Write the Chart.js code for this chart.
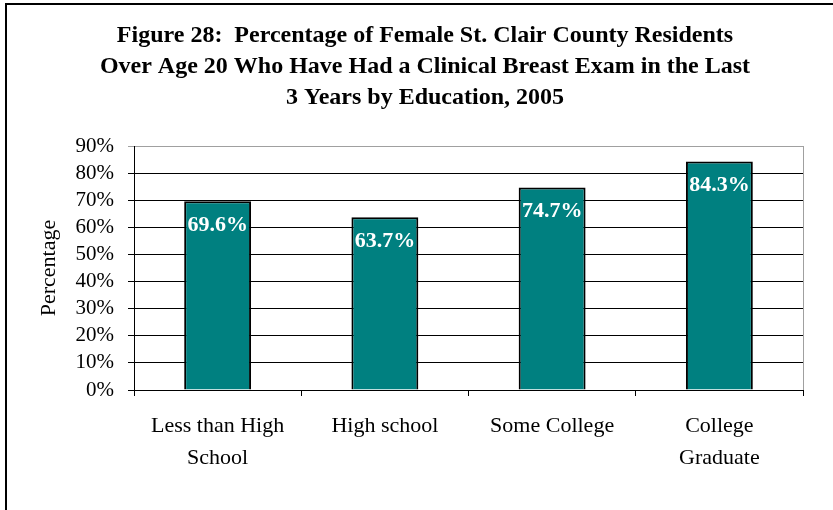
<!DOCTYPE html>
<html>
<head>
<meta charset="utf-8">
<script src="https://cdn.jsdelivr.net/npm/chart.js@4/dist/chart.umd.min.js"></script>
<style>
  html, body { margin: 0; padding: 0; background: #ffffff; }
  #wrap { width: 833px; height: 510px; position: relative; }
</style>
</head>
<body>
<div id="wrap"><canvas id="c" width="833" height="510"></canvas></div>
<script>
const titleLines = [
  "Figure 28:  Percentage of Female St. Clair County Residents",
  "Over Age 20 Who Have Had a Clinical Breast Exam in the Last",
  "3 Years by Education, 2005"
];
const categories = [["Less than High", "School"], "High school", "Some College", ["College", "Graduate"]];
const values = [69.6, 63.7, 74.7, 84.3];
const valueLabels = ["69.6%", "63.7%", "74.7%", "84.3%"];
const yTicks = [0, 10, 20, 30, 40, 50, 60, 70, 80, 90];
const yAxisTitle = "Percentage";

const SERIF = "'Liberation Serif', 'Times New Roman', serif";

const framePlugin = {
  id: 'frame',
  beforeDraw(chart) {
    const ctx = chart.ctx;
    ctx.save();
    ctx.fillStyle = '#ffffff';
    ctx.fillRect(0, 0, chart.width, chart.height);
    ctx.strokeStyle = '#000000';
    ctx.lineWidth = 2;
    ctx.beginPath();
    ctx.moveTo(6, chart.height);
    ctx.lineTo(6, 4);
    ctx.lineTo(chart.width, 4);
    ctx.stroke();
    ctx.fillStyle = '#000000';
    ctx.font = "bold 24px " + SERIF;
    ctx.textAlign = 'center';
    ctx.textBaseline = 'middle';
    titleLines.forEach((t, i) => ctx.fillText(t, 425, 36 + i * 31));
    ctx.restore();
  },
  afterDatasetsDraw(chart) {
    const ctx = chart.ctx;
    const area = chart.chartArea;
    ctx.save();
    ctx.strokeStyle = '#a0a0a0';
    ctx.lineWidth = 1;
    ctx.beginPath();
    ctx.moveTo(Math.round(area.right) + 0.5, area.top);
    ctx.lineTo(Math.round(area.right) + 0.5, area.bottom);
    ctx.stroke();
    const meta = chart.getDatasetMeta(0);
    ctx.fillStyle = '#ffffff';
    ctx.font = "bold 22px " + SERIF;
    ctx.textAlign = 'center';
    ctx.textBaseline = 'middle';
    meta.data.forEach((bar, i) => {
      ctx.fillText(valueLabels[i], bar.x, bar.y + 24);
    });
    ctx.restore();
  }
};

new Chart(document.getElementById('c'), {
  type: 'bar',
  data: {
    labels: categories,
    datasets: [{
      data: values,
      backgroundColor: '#008080',
      borderColor: '#000000',
      borderWidth: 2,
      categoryPercentage: 0.8,
      barPercentage: 0.5
    }]
  },
  options: {
    responsive: false,
    animation: false,
    devicePixelRatio: 1,
    layout: { padding: { top: 146, right: 30, left: 0, bottom: 0 } },
    plugins: {
      legend: { display: false },
      tooltip: { enabled: false },
      title: { display: false }
    },
    scales: {
      x: {
        offset: true,
        grid: {
          offset: true,
          drawOnChartArea: false,
          drawTicks: true,
          tickLength: 6,
          color: '#000000'
        },
        border: { color: '#000000', width: 1 },
        ticks: {
          color: '#000000',
          font: { family: SERIF, size: 22, lineHeight: 1.45 },
          padding: 14,
          maxRotation: 0,
          autoSkip: false
        },
        afterFit(scale) { scale.height = 120; }
      },
      y: {
        min: 0,
        max: 90,
        afterBuildTicks(scale) { scale.ticks = yTicks.map(v => ({ value: v })); },
        grid: {
          color: (c) => (c.tick && c.tick.value === 90) ? '#a0a0a0' : '#000000',
          lineWidth: 1,
          drawTicks: true,
          tickLength: 6
        },
        border: { color: '#000000', width: 1 },
        ticks: {
          color: '#000000',
          font: { family: SERIF, size: 21 },
          padding: 14,
          autoSkip: false,
          callback: (v) => v + '%'
        },
        title: {
          display: true,
          text: yAxisTitle,
          color: '#000000',
          font: { family: SERIF, size: 22 },
          padding: { top: 36, bottom: 0 }
        },
        afterFit(scale) { scale.width = 134; }
      }
    }
  },
  plugins: [framePlugin]
});
</script>
</body>
</html>
